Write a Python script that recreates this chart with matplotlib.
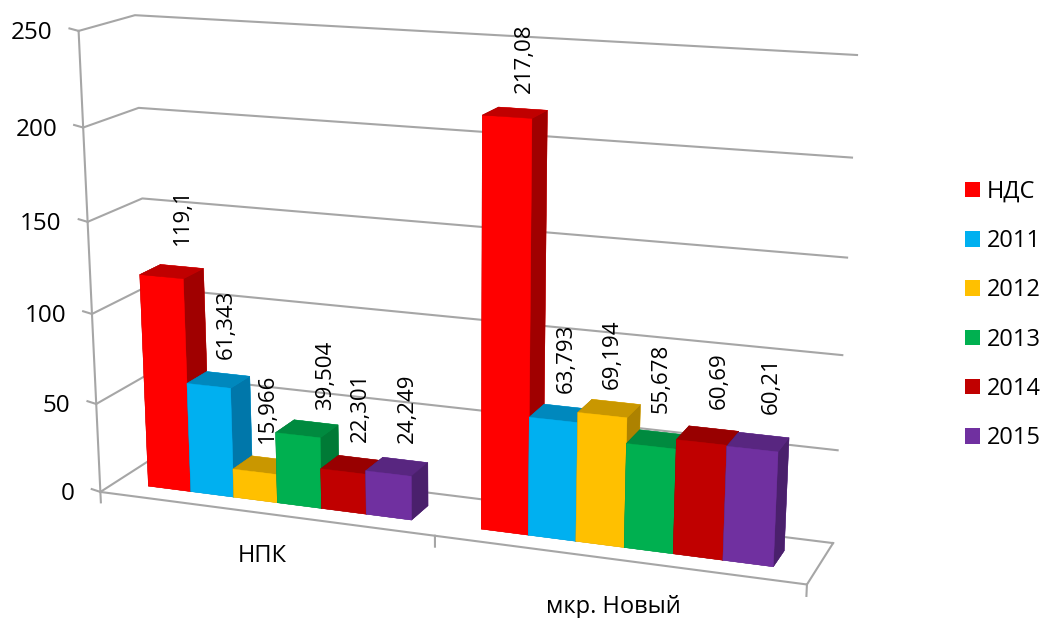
import numpy as np
import matplotlib
matplotlib.use("Agg")
import matplotlib.pyplot as plt
from matplotlib.patches import Patch
from mpl_toolkits.mplot3d import proj3d

plt.rcParams['font.family'] = ['Open Sans', 'DejaVu Sans']

# ===== Data =====
categories = ["НПК", "мкр. Новый"]
series_names = ["НДС", "2011", "2012", "2013", "2014", "2015"]
npk_values = [119.1, 61.343, 15.966, 39.504, 22.301, 24.249]
novy_values = [217.08, 63.793, 69.194, 55.678, 60.69, 60.21]
npk_labels = ["119,1", "61,343", "15,966", "39,504", "22,301", "24,249"]
novy_labels = ["217,08", "63,793", "69,194", "55,678", "60,69", "60,21"]
y_ticks = [0, 50, 100, 150, 200, 250]

# front, top and side shades of each series
front_colors = ["#FF0000", "#00B0F0", "#FFC000", "#00B050", "#C00000", "#7030A0"]
top_colors = ["#C00000", "#0088BD", "#C99700", "#008A3F", "#980000", "#582680"]
side_colors = ["#A00000", "#0077AA", "#AD8200", "#007A36", "#820000", "#4A206C"]

# pixel offsets of the value labels from a bar's top front corner
npk_gaps = [34, 29, 32, 28, 32, 33]
novy_gaps = [25, 30, 29, 36, 36, 38]
npk_shifts = [-1, -4, -9, 5, -5, -4]
novy_shifts = [-8, -11, -15, -15, -8, -7]

GRID = "#A6A6A6"
BAR_W = 0.1325
DEPTH = (0.29, 0.68)
GROUP_SHIFT = [0, -0.005]
W, H = 1043, 618

# ===== Figure =====
fig = plt.figure(figsize=(W / 100, H / 100), dpi=100, facecolor="white")

# square 3D axes, bigger than the canvas so the optical centre sits low in the frame
side = 1000
ax = fig.add_axes([(461 - 0.5135 * side) / W, (222 - 0.5135 * side) / H, side / W, side / H],
                  projection="3d")
ax.computed_zorder = False
ax.set_proj_type("persp", focal_length=0.43975)
ax.view_init(elev=17.09, azim=-69.56, roll=0)
ax.set_xlim(0, 2.0305)
ax.set_ylim(0, 1)
ax.set_zlim(-116.2, 250)
ax.set_box_aspect((306.6, 47.4, 284.2), zoom=1.0154)
ax.set_axis_off()
proj = ax.get_proj()


def label_at(x, y, z, text, dx=0, dy=0, **kwargs):
    # text stays upright on the canvas, only its anchor goes through the 3D projection
    x2, y2, _ = proj3d.proj_transform(x, y, z, proj)
    ax.annotate(text, xy=(x2, y2), xycoords="data", xytext=(dx, dy), textcoords="offset pixels",
                color="black", zorder=20, annotation_clip=False, **kwargs)


# ===== Walls and floor =====
line_style = dict(color=GRID, lw=1.5, zorder=1)
for v in y_ticks:
    ax.plot([0, 0, 2], [0, 1, 1], [v, v, v], **line_style)
    ax.plot([-0.027, 0], [0, 0], [v + 1, v], **line_style)
    label_at(0, 0, v, str(v), dx=-26, dy=-2, ha="right", va="center", fontsize=17.5)
ax.plot([0, 0], [0, 0], [0, 250], **line_style)
ax.plot([0, 2, 2], [0, 0, 1], [0, 0, 0], **line_style)
for cat_edge in range(3):
    ax.plot([cat_edge, cat_edge], [0, 0], [0, -6], **line_style)

# ===== Bars =====
order = 2
for i, (values, labels, gaps, shifts) in enumerate(zip([npk_values, novy_values],
                                                       [npk_labels, novy_labels],
                                                       [npk_gaps, novy_gaps],
                                                       [npk_shifts, novy_shifts])):
    start = i + GROUP_SHIFT[i] + (1 - len(values) * BAR_W) / 2
    for j, value in enumerate(values):
        x_left = start + j * BAR_W
        # bar3d face order: bottom, top, front, back, left, right
        faces = [top_colors[j], top_colors[j], front_colors[j], front_colors[j],
                 side_colors[j], side_colors[j]]
        ax.bar3d(x_left, DEPTH[0], 0, BAR_W, DEPTH[1] - DEPTH[0], value,
                 color=faces, edgecolor=faces, linewidth=0.3, shade=False, zorder=order)
        order += 1
        label_at(x_left + BAR_W, DEPTH[0], value, labels[j], dx=shifts[j], dy=gaps[j],
                 rotation=90, ha="center", va="bottom", fontsize=16)

# ===== Category labels and legend =====
fig.text(262 / W, 1 - 556 / H, categories[0], ha="center", va="center", fontsize=17)
fig.text(613 / W, 1 - 607 / H, categories[1], ha="center", va="center", fontsize=17)

handles = [Patch(facecolor=c, edgecolor="none") for c in front_colors]
fig.legend(handles, series_names, loc="center left", bbox_to_anchor=(965 / W, 1 - 315 / H),
           frameon=False, fontsize=17, handlelength=0.63, handleheight=0.63,
           handletextpad=0.3, labelspacing=1.07, borderpad=0, borderaxespad=0)

fig.savefig("out.png", dpi=100, facecolor="white")
